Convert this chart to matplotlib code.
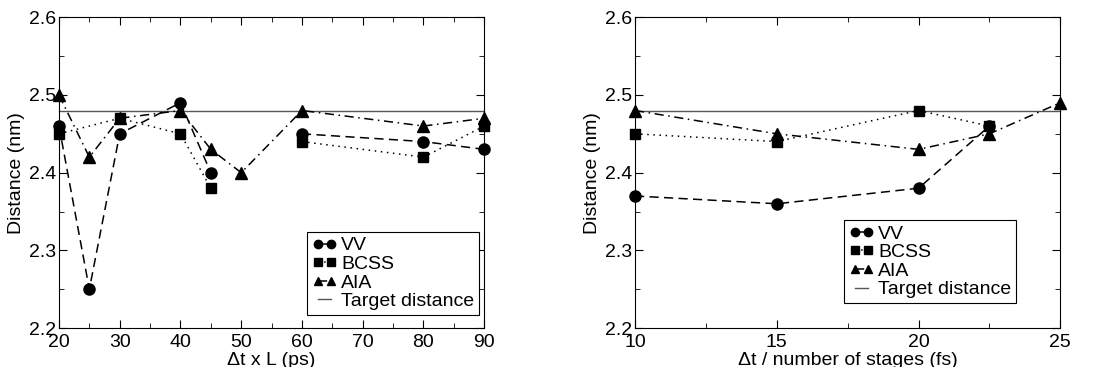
import numpy as np
import matplotlib
matplotlib.use("Agg")
from matplotlib import pyplot as plt
from matplotlib.ticker import MultipleLocator

plt.rcParams['font.family'] = ['Liberation Sans', 'DejaVu Sans']

# left panel: dt x L (ps)
vv_x1 = [20, 25, 30, 40, 45, 50, 60, 80, 90]
vv_y1 = [2.46, 2.25, 2.45, 2.49, 2.40, np.nan, 2.45, 2.44, 2.43]
bcss_x1 = [20, 30, 40, 45, 50, 60, 80, 90]
bcss_y1 = [2.45, 2.47, 2.45, 2.38, np.nan, 2.44, 2.42, 2.46]
aia_x1 = [20, 25, 30, 40, 45, 50, 60, 80, 90]
aia_y1 = [2.50, 2.42, 2.47, 2.48, 2.43, 2.40, 2.48, 2.46, 2.47]

# right panel: dt / number of stages (fs)
vv_x2 = [10, 15, 20, 22.5]
vv_y2 = [2.37, 2.36, 2.38, 2.46]
bcss_x2 = [10, 15, 20, 22.5]
bcss_y2 = [2.45, 2.44, 2.48, 2.46]
aia_x2 = [10, 15, 20, 22.5, 25]
aia_y2 = [2.48, 2.45, 2.43, 2.45, 2.49]

target = 2.48

fig = plt.figure(figsize=(10.96, 3.67), dpi=100)
ax1 = fig.add_axes([0.0538, 0.106, 0.388, 0.847])
ax2 = fig.add_axes([0.5794, 0.106, 0.388, 0.847])


def draw(ax, data, xlim, major, minor, xlabel, leg_anchor):
    (vx, vy), (bx, by), (ax_, ay) = data
    ax.axhline(target, color="#555555", lw=1.0, label="Target distance", zorder=1)
    ax.plot(vx, vy, color="k", ls=(0, (6, 3.5)), lw=1.1, marker="o", ms=8, label="VV")
    ax.plot(bx, by, color="k", ls=(0, (1, 3)), lw=1.1, marker="s", ms=7.5, label="BCSS")
    ax.plot(ax_, ay, color="k", ls=(0, (6, 3, 1, 3)), lw=1.1, marker="^", ms=8.5, label="AIA")
    ax.set_xlim(*xlim)
    ax.set_ylim(2.2, 2.6)
    ax.xaxis.set_major_locator(MultipleLocator(major))
    ax.xaxis.set_minor_locator(MultipleLocator(minor))
    ax.yaxis.set_major_locator(MultipleLocator(0.1))
    ax.yaxis.set_minor_locator(MultipleLocator(0.05))
    ax.tick_params(which="both", direction="in", top=True, right=True, labelsize=14)
    ax.tick_params(which="major", length=6)
    ax.tick_params(which="minor", length=3.5)
    ax.tick_params(axis="x", pad=4)
    ax.tick_params(axis="y", pad=2)
    ax.set_xlabel(xlabel, fontsize=14, labelpad=1)
    ax.set_ylabel("Distance (nm)", fontsize=14, labelpad=3)
    h, l = ax.get_legend_handles_labels()
    order = [1, 2, 3, 0]
    leg = ax.legend([h[i] for i in order], [l[i] for i in order], loc="lower right",
                    fontsize=14, numpoints=2, markerscale=0.75,
                    handlelength=1.3, handletextpad=0.2,
                    labelspacing=0.05, borderpad=0.25, borderaxespad=0,
                    fancybox=False, edgecolor="k", framealpha=1,
                    bbox_to_anchor=leg_anchor)
    leg.get_frame().set_linewidth(0.8)


draw(ax1, [(vv_x1, vv_y1), (bcss_x1, bcss_y1), (aia_x1, aia_y1)], (20, 90), 10, 5,
     "\u0394t x L (ps)", (0.988, 0.042))
draw(ax2, [(vv_x2, vv_y2), (bcss_x2, bcss_y2), (aia_x2, aia_y2)], (10, 25), 5, 2.5,
     "\u0394t / number of stages (fs)", (0.896, 0.080))

for a in (ax1, ax2):
    for line in a.get_lines():
        line.set_clip_on(False)

fig.savefig("out.png", dpi=100)
